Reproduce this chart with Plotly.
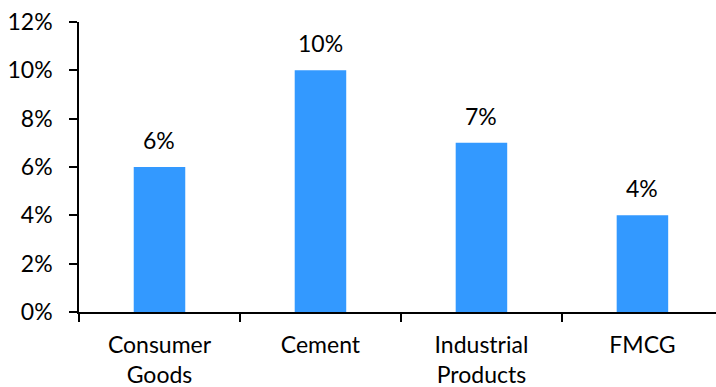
import plotly.graph_objects as go

categories = ["Consumer<br>Goods", "Cement", "Industrial<br>Products", "FMCG"]
values = [0.06, 0.10, 0.07, 0.04]
y_ticks = [0, 0.02, 0.04, 0.06, 0.08, 0.10, 0.12]

font_family = "Lato, Open Sans, sans-serif"

fig = go.Figure(
    go.Bar(
        x=categories,
        y=values,
        marker=dict(color="#3399FF", line=dict(width=0)),
        width=0.32,
        cliponaxis=False,
    )
)

# value labels sitting above each bar
for cat, v in zip(categories, values):
    fig.add_annotation(
        x=cat,
        y=v,
        text=f"{v:.0%}",
        showarrow=False,
        yanchor="bottom",
        yshift=11,
        font=dict(size=23, color="#000000", family=font_family),
    )

fig.update_layout(
    width=716,
    height=387,
    margin=dict(l=79, r=0, t=22, b=75),
    plot_bgcolor="white",
    paper_bgcolor="white",
    showlegend=False,
    font=dict(family=font_family, size=23, color="#000000"),
)

fig.update_xaxes(
    type="category",
    range=[-0.5, 3.457],
    showline=True,
    linecolor="#000000",
    linewidth=1.5,
    ticks="outside",
    tickson="boundaries",
    ticklen=8,
    tickcolor="#000000",
    tickwidth=1.5,
    showgrid=False,
    ticklabelstandoff=12,
    tickfont=dict(size=23, family=font_family),
)

fig.update_yaxes(
    range=[0, 0.12],
    tickvals=y_ticks,
    tickformat=".0%",
    showline=True,
    linecolor="#000000",
    linewidth=1.5,
    ticks="outside",
    ticklen=8,
    tickcolor="#000000",
    tickwidth=1.5,
    showgrid=False,
    zeroline=False,
    ticklabelstandoff=12,
    tickfont=dict(size=23, family=font_family),
)

fig.write_html("out.html")
